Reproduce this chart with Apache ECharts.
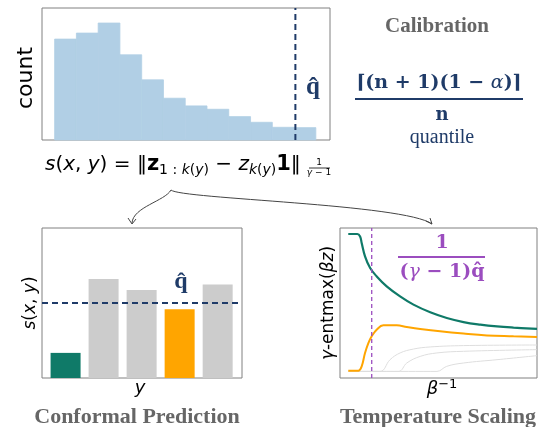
<!DOCTYPE html>
<html><head><meta charset="utf-8">
<script src="https://cdn.jsdelivr.net/npm/echarts@6/dist/echarts.min.js"></script>
<style>html,body{margin:0;padding:0;background:#fff}#c{width:544px;height:427px}</style>
</head><body><div id="c"></div>
<script>
// ---- data ----
const histEdges = [0,1,2,3,4,5,6,7,8,9,10,11,12];
const histCounts = [30.2, 32, 35, 25.5, 18, 12.5, 10.2, 9.2, 7, 5.3, 3.8, 3.7];
const qhatHist = 11.06;

const cpCategories = [0, 1, 2, 3, 4];
const cpScores = [7.5, 29.6, 26.3, 20.5, 27.9];
const cpQhat = 22.4;

const tsGreen = [[4.2,96],[8.8,96],[10.2,94.4],[11.0,90],[12.7,81.1],[15.3,73.3],[18.6,67.8],[23.7,61.1],[30.5,54.4],[37.3,48.9],[45.8,43.8],[54.2,40],[62.7,37.3],[71.2,35.6],[79.7,34.4],[88.1,33.6],[100,32.7]];
const tsOrange = [[4.2,4.9],[9.3,4.9],[11.0,7.8],[12.7,16.7],[14.4,23.3],[16.1,27.8],[18.6,32.2],[22.0,35.1],[28.8,35.1],[33.9,34],[40.7,32.7],[50.8,31.1],[62.7,29.6],[74.6,28.4],[88.1,27.8],[100,27.3]];
const tsGrey1 = [[4.2,4.4],[20.3,4.4],[25.4,12.2],[30.5,16.7],[37.3,19.3],[45.8,20.7],[62.7,21.6],[100,22]];
const tsGrey2 = [[4.2,4.4],[29.7,4.4],[33.9,10],[40.7,14.4],[49.2,16.7],[62.7,17.8],[100,18.9]];
const tsGrey3 = [[4.2,4.4],[49.2,4.4],[54.2,7.8],[62.7,10],[79.7,12.2],[100,14.9]];
const tsQhatX = 16.1;

// ---- chart ----
const chart = echarts.init(document.getElementById('c'));
const navy = '#1f3b68', purple = '#9b4dbf', titleGrey = '#666666', frame = '#808080';
const hiddenAxis = {axisLine:{show:false},axisTick:{show:false},axisLabel:{show:false},splitLine:{show:false}};
const histData = histCounts.map((c,i)=>[histEdges[i], histEdges[i+1], c]);
const barColors = ['#0f7a68','#cccccc','#cccccc','#ffa500','#cccccc'];

const serif = '"Liberation Serif", "DejaVu Serif", serif';
const sans = '"DejaVu Sans", sans-serif';

function txt(x,y,text,font,fill,extra){
  return Object.assign({type:'text', x:x, y:y, silent:true,
    style:{text:text, font:font, fill:fill, align:'center', verticalAlign:'middle'}}, extra||{});
}

chart.setOption({
  animation:false,
  grid:[
    {left:42, top:8, width:288, height:132, show:true, borderColor:frame, borderWidth:1},
    {left:42, top:228, width:200, height:150, show:true, borderColor:frame, borderWidth:1},
    {left:340, top:228, width:197, height:150, show:true, borderColor:frame, borderWidth:1}
  ],
  xAxis:[
    Object.assign({type:'value', gridIndex:0, min:-0.58, max:12.65}, hiddenAxis),
    Object.assign({type:'value', gridIndex:1, min:-0.62, max:4.64}, hiddenAxis),
    Object.assign({type:'value', gridIndex:2, min:0, max:100}, hiddenAxis)
  ],
  yAxis:[
    Object.assign({type:'value', gridIndex:0, min:0, max:39.5}, hiddenAxis),
    Object.assign({type:'value', gridIndex:1, min:0, max:44.8}, hiddenAxis),
    Object.assign({type:'value', gridIndex:2, min:0, max:100}, hiddenAxis)
  ],
  series:[
    {type:'custom', xAxisIndex:0, yAxisIndex:0, data:histData,
     renderItem:function(params, api){
       const p0 = api.coord([api.value(0), api.value(2)]);
       const p1 = api.coord([api.value(1), 0]);
       return {type:'rect', shape:{x:p0[0], y:p0[1], width:p1[0]-p0[0], height:p1[1]-p0[1]},
               style:{fill:'#b1cfe5', stroke:'#b1cfe5', lineWidth:0.8}};
     }},
    {type:'line', xAxisIndex:0, yAxisIndex:0, data:[[qhatHist,0],[qhatHist,39.5]], symbol:'none',
     lineStyle:{color:navy, width:2, type:[6,4]}},
    {type:'bar', xAxisIndex:1, yAxisIndex:1, barWidth:30,
     data:cpCategories.map((c,i)=>({value:[c, cpScores[i]], itemStyle:{color:barColors[i]}}))},
    {type:'line', xAxisIndex:1, yAxisIndex:1, data:[[-0.62,cpQhat],[4.64,cpQhat]], symbol:'none',
     lineStyle:{color:navy, width:2, type:[6,4]}},
    {type:'line', xAxisIndex:2, yAxisIndex:2, data:tsGrey1, symbol:'none', smooth:0.4, lineStyle:{color:'#dedede', width:1}},
    {type:'line', xAxisIndex:2, yAxisIndex:2, data:tsGrey2, symbol:'none', smooth:0.4, lineStyle:{color:'#dedede', width:1}},
    {type:'line', xAxisIndex:2, yAxisIndex:2, data:tsGrey3, symbol:'none', smooth:0.4, lineStyle:{color:'#dedede', width:1}},
    {type:'line', xAxisIndex:2, yAxisIndex:2, data:tsOrange, symbol:'none', smooth:0.4, lineStyle:{color:'#ffa500', width:2}},
    {type:'line', xAxisIndex:2, yAxisIndex:2, data:tsGreen, symbol:'none', smooth:0.4, lineStyle:{color:'#0f7a68', width:2.2}},
    {type:'line', xAxisIndex:2, yAxisIndex:2, data:[[tsQhatX,0],[tsQhatX,100]], symbol:'none',
     lineStyle:{color:purple, width:1.3, type:[4,3]}}
  ],
  graphic:[
    // top histogram labels
    txt(26, 78, 'count', '22px '+sans, '#000', {rotation:Math.PI/2}),
    txt(313, 88, 'q\u0302', 'bold 25px '+serif, navy),
    // formula
    {type:'text', x:45, y:165, silent:true, style:{
      text:'{i|s}{m|(}{i|x}{m|, }{i|y}{m|) = ‖}{b|z}{s|1 : }{si|k}{s|(}{si|y}{s|)}{m| − }{i|z}{si|k}{s|(}{si|y}{s|)}{b|1}{m|‖}',
      align:'left', verticalAlign:'middle',
      rich:{
        m:{fontFamily:'DejaVu Sans', fontSize:20, fill:'#000', lineHeight:24, verticalAlign:'middle'},
        i:{fontFamily:'DejaVu Sans', fontSize:20, fontStyle:'italic', fill:'#000', lineHeight:24, verticalAlign:'middle'},
        b:{fontFamily:'DejaVu Sans', fontSize:21, fontWeight:'bold', fill:'#000', lineHeight:24, verticalAlign:'middle'},
        s:{fontFamily:'DejaVu Sans', fontSize:14, fill:'#000', lineHeight:14, verticalAlign:'bottom'},
        si:{fontFamily:'DejaVu Sans', fontSize:14, fontStyle:'italic', fill:'#000', lineHeight:14, verticalAlign:'bottom'}
      }}},
    txt(319, 163, '1', '9px '+sans, '#000'),
    {type:'line', silent:true, shape:{x1:309, y1:168, x2:330, y2:168}, style:{stroke:'#000', lineWidth:0.8}},
    txt(319, 173, '', '9px '+sans, '#000', {style:{text:'{i|γ}{m| − 1}', align:'center', verticalAlign:'middle',
      rich:{i:{fontFamily:'DejaVu Sans', fontSize:9, fontStyle:'italic', fill:'#000'}, m:{fontFamily:'DejaVu Sans', fontSize:9, fill:'#000'}}}}),
    // calibration block
    txt(437, 27, 'Calibration', 'bold 21px '+serif, titleGrey),
    txt(439, 83, '', 'bold 19px '+serif, navy, {style:{text:'{b|⌈(n + 1)(1 − }{a|α}{b|)⌉}', align:'center', verticalAlign:'middle',
      rich:{b:{fontFamily:'DejaVu Serif', fontSize:19, fontWeight:'bold', fill:navy}, a:{fontFamily:'DejaVu Serif', fontSize:19, fontStyle:'italic', fill:navy}}}}),
    {type:'line', silent:true, shape:{x1:355, y1:99, x2:523, y2:99}, style:{stroke:navy, lineWidth:1.8}},
    txt(442, 115, 'n', 'bold 18px "DejaVu Serif", serif', navy),
    txt(442, 138, 'quantile', '20px '+serif, navy),
    // arrows
    {type:'bezierCurve', silent:true, shape:{x1:171, y1:190, cpx1:165, cpy1:201, cpx2:133, cpy2:207, x2:132, y2:223}, style:{stroke:'#444', lineWidth:1, fill:null}},
    {type:'polyline', silent:true, shape:{points:[[128,218],[132,224],[136,219]]}, style:{stroke:'#444', lineWidth:1, fill:null}},
    {type:'bezierCurve', silent:true, shape:{x1:171, y1:190, cpx1:180, cpy1:199, cpx2:405, cpy2:204, x2:432, y2:224}, style:{stroke:'#444', lineWidth:1, fill:null}},
    {type:'polyline', silent:true, shape:{points:[[426,221],[432,224],[430,218]]}, style:{stroke:'#444', lineWidth:1, fill:null}},
    // conformal prediction panel
    txt(31, 303, '', '17px '+sans, '#000', {rotation:Math.PI/2, style:{text:'{i|s}{m|(}{i|x}{m|, }{i|y}{m|)}', align:'center', verticalAlign:'middle',
      rich:{i:{fontFamily:'DejaVu Sans', fontSize:17, fontStyle:'italic', fill:'#000'}, m:{fontFamily:'DejaVu Sans', fontSize:17, fill:'#000'}}}}),
    txt(140, 388, 'y', 'italic 18px '+sans, '#000'),
    txt(181, 282, 'q\u0302', 'bold 24px '+serif, navy),
    txt(137, 417, 'Conformal Prediction', 'bold 22px '+serif, titleGrey),
    // temperature scaling panel
    txt(329, 303, '', '17px '+sans, '#000', {rotation:Math.PI/2, style:{text:'{i|γ}{m|-entmax(}{i|βz}{m|)}', align:'center', verticalAlign:'middle',
      rich:{i:{fontFamily:'DejaVu Sans', fontSize:17, fontStyle:'italic', fill:'#000'}, m:{fontFamily:'DejaVu Sans', fontSize:17, fill:'#000'}}}}),
    txt(442, 389, '', '18px '+sans, '#000', {style:{text:'{i|β}{s|−1}', align:'center', verticalAlign:'middle',
      rich:{i:{fontFamily:'DejaVu Sans', fontSize:18, fontStyle:'italic', fill:'#000', lineHeight:22, verticalAlign:'middle'},
            s:{fontFamily:'DejaVu Sans', fontSize:13, fill:'#000', lineHeight:13, verticalAlign:'top'}}}}),
    txt(442, 243, '1', 'bold 19px "DejaVu Serif", serif', purple),
    {type:'line', silent:true, shape:{x1:398, y1:257, x2:485, y2:257}, style:{stroke:purple, lineWidth:1.8}},
    txt(442, 272, '', 'bold 19px '+serif, purple, {style:{text:'{b|(}{g|γ}{b| − 1)q\u0302}', align:'center', verticalAlign:'middle',
      rich:{b:{fontFamily:'DejaVu Serif', fontSize:19, fontWeight:'bold', fill:purple}, g:{fontFamily:'DejaVu Serif', fontSize:19, fontStyle:'italic', fill:purple}}}}),
    txt(438, 417, 'Temperature Scaling', 'bold 22px '+serif, titleGrey)
  ]
});
</script></body></html>
